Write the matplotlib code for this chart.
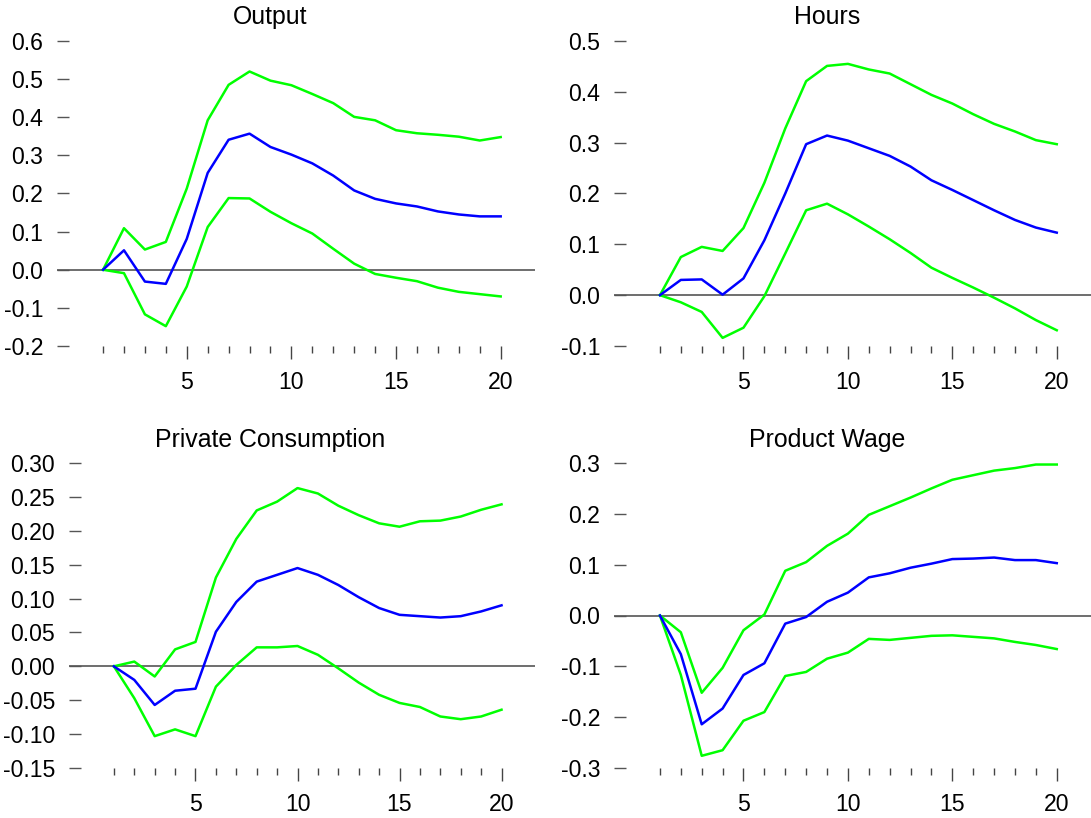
import matplotlib
matplotlib.use("Agg")
import matplotlib.pyplot as plt
from matplotlib.ticker import FixedLocator, FixedFormatter

plt.rcParams['font.family'] = ['Liberation Sans', 'DejaVu Sans']
plt.rcParams['axes.unicode_minus'] = False

periods = list(range(1, 21))

titles = ["Output", "Hours", "Private Consumption", "Product Wage"]

output_mid = [0, 0.051, -0.031, -0.037, 0.081, 0.254, 0.341, 0.357, 0.322, 0.302,
              0.279, 0.247, 0.208, 0.186, 0.174, 0.166, 0.153, 0.145, 0.140, 0.140]
output_hi = [0, 0.109, 0.053, 0.073, 0.213, 0.392, 0.485, 0.520, 0.496, 0.484,
             0.461, 0.437, 0.401, 0.392, 0.366, 0.358, 0.354, 0.349, 0.339, 0.348]
output_lo = [0, -0.009, -0.117, -0.148, -0.044, 0.112, 0.188, 0.187, 0.152, 0.122,
             0.095, 0.055, 0.016, -0.011, -0.021, -0.030, -0.047, -0.058, -0.064, -0.070]

hours_mid = [0, 0.030, 0.031, 0.001, 0.033, 0.108, 0.200, 0.297, 0.314, 0.304,
             0.289, 0.274, 0.253, 0.226, 0.207, 0.187, 0.167, 0.148, 0.133, 0.123]
hours_hi = [0, 0.075, 0.095, 0.087, 0.132, 0.221, 0.328, 0.421, 0.451, 0.455,
            0.444, 0.436, 0.415, 0.394, 0.377, 0.356, 0.337, 0.322, 0.305, 0.297]
hours_lo = [0, -0.014, -0.033, -0.084, -0.064, -0.002, 0.082, 0.167, 0.180, 0.159,
            0.135, 0.110, 0.083, 0.054, 0.034, 0.015, -0.005, -0.026, -0.049, -0.069]

cons_mid = [0, -0.020, -0.057, -0.036, -0.033, 0.051, 0.095, 0.125, 0.135, 0.145,
            0.135, 0.120, 0.102, 0.086, 0.076, 0.074, 0.072, 0.074, 0.081, 0.090]
cons_hi = [0, 0.007, -0.015, 0.025, 0.036, 0.131, 0.188, 0.230, 0.243, 0.263,
           0.255, 0.237, 0.223, 0.211, 0.206, 0.214, 0.215, 0.221, 0.231, 0.239]
cons_lo = [0, -0.047, -0.103, -0.093, -0.103, -0.030, 0.002, 0.028, 0.028, 0.030,
           0.017, -0.003, -0.024, -0.042, -0.054, -0.060, -0.074, -0.078, -0.074, -0.064]

wage_mid = [0, -0.076, -0.214, -0.183, -0.117, -0.094, -0.016, -0.003, 0.027, 0.045,
            0.075, 0.083, 0.094, 0.102, 0.111, 0.112, 0.114, 0.109, 0.109, 0.103]
wage_hi = [0, -0.033, -0.152, -0.103, -0.029, 0.002, 0.088, 0.105, 0.137, 0.161,
           0.198, 0.215, 0.232, 0.250, 0.267, 0.276, 0.285, 0.290, 0.297, 0.297]
wage_lo = [0, -0.117, -0.276, -0.265, -0.207, -0.190, -0.119, -0.111, -0.085, -0.073,
           -0.046, -0.048, -0.044, -0.040, -0.039, -0.042, -0.045, -0.052, -0.058, -0.066]

output_yticks = [-0.2, -0.1, 0.0, 0.1, 0.2, 0.3, 0.4, 0.5, 0.6]
output_ylabels = ["-0.2", "-0.1", "0.0", "0.1", "0.2", "0.3", "0.4", "0.5", "0.6"]
hours_yticks = [-0.1, 0.0, 0.1, 0.2, 0.3, 0.4, 0.5]
hours_ylabels = ["-0.1", "0.0", "0.1", "0.2", "0.3", "0.4", "0.5"]
cons_yticks = [-0.15, -0.10, -0.05, 0.0, 0.05, 0.10, 0.15, 0.20, 0.25, 0.30]
cons_ylabels = ["-0.15", "-0.10", "-0.05", "0.00", "0.05", "0.10", "0.15", "0.20", "0.25", "0.30"]
wage_yticks = [-0.3, -0.2, -0.1, 0.0, 0.1, 0.2, 0.3]
wage_ylabels = ["-0.3", "-0.2", "-0.1", "0.0", "0.1", "0.2", "0.3"]

x_major = [5, 10, 15, 20]
x_major_labels = ["5", "10", "15", "20"]
x_minor = [k for k in periods if k not in x_major]

W, H = 1091, 818
fig = plt.figure(figsize=(W / 100, H / 100), dpi=100)

# pixel boxes: left, right, top, bottom
boxes = [(57, 535, 41, 346), (614, 1091, 41, 346),
         (69, 535, 463, 768), (614, 1091, 463, 768)]
title_pos = [(270, 24), (827, 24), (270, 447), (827, 447)]

panels = [
    (output_mid, output_hi, output_lo, output_yticks, output_ylabels),
    (hours_mid, hours_hi, hours_lo, hours_yticks, hours_ylabels),
    (cons_mid, cons_hi, cons_lo, cons_yticks, cons_ylabels),
    (wage_mid, wage_hi, wage_lo, wage_yticks, wage_ylabels),
]

GREEN = "#00ff00"
BLUE = "#0000ff"
FS = 16.6

for i, (mid, hi, lo, yt, yl) in enumerate(panels):
    l, r, t, b = boxes[i]
    ax = fig.add_axes([l / W, 1 - b / H, (r - l) / W, (b - t) / H])
    for s in ax.spines.values():
        s.set_visible(False)
    ax.axhline(0, color="#555555", lw=1.2, zorder=1)
    ax.plot(periods, hi, color=GREEN, lw=1.8, zorder=2)
    ax.plot(periods, lo, color=GREEN, lw=1.8, zorder=2)
    ax.plot(periods, mid, color=BLUE, lw=1.8, zorder=3)
    ax.set_xlim(-1.2, 21.64)
    ax.set_ylim(yt[0], yt[-1])
    ax.yaxis.set_major_locator(FixedLocator(yt))
    ax.yaxis.set_major_formatter(FixedFormatter(yl))
    ax.xaxis.set_major_locator(FixedLocator(x_major))
    ax.xaxis.set_major_formatter(FixedFormatter(x_major_labels))
    ax.xaxis.set_minor_locator(FixedLocator(x_minor))
    ax.tick_params(axis='y', direction='in', length=8.6, width=1.0,
                   color="#555555", labelsize=FS, pad=10)
    ax.tick_params(axis='x', which='major', direction='out', length=9.4, width=1.0,
                   color="#444444", labelsize=FS, pad=8.5)
    ax.tick_params(axis='x', which='minor', direction='out', length=5, width=1.0,
                   color="#444444")
    tx, ty = title_pos[i]
    fig.text(tx / W, 1 - ty / H, titles[i], ha='center', va='baseline', fontsize=17.9)

fig.savefig("out.png", dpi=100)
